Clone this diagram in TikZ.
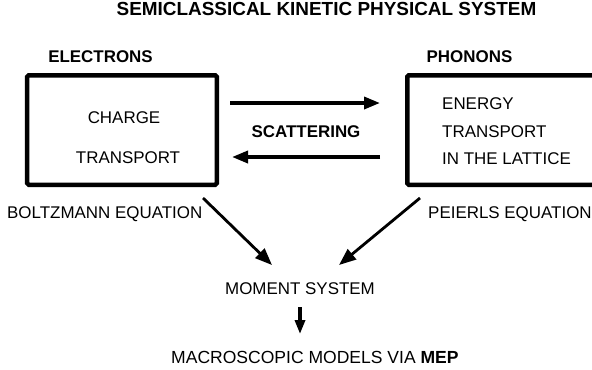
\documentclass[tikz,border=0pt]{standalone}
\usepackage{fontspec}
\setmainfont{Liberation Sans}
\usetikzlibrary{arrows.meta}
\begin{document}
\begin{tikzpicture}[x=1bp,y=-1bp,
  lbl/.style={inner sep=0pt, anchor=base, font=\fontsize{17}{20}\selectfont},
  lblL/.style={lbl, anchor=base west},
  bold/.style={lbl, font=\fontsize{17}{20}\selectfont\bfseries},
  boxst/.style={draw, line width=4.5bp, rounded corners=1.5bp, inner sep=0pt, outer sep=0pt},
  harr/.style={line width=3.5bp, -{Triangle[length=16bp,width=12bp]}},
  darr/.style={line width=2.8bp, -{Triangle[length=17bp,width=13bp]}},
  varr/.style={line width=3.3bp, -{Triangle[length=14bp,width=10bp]}},
]
\useasboundingbox (0,0) rectangle (592,369);
\clip (0,0) rectangle (592,369);

\node[bold, font=\fontsize{19}{22}\selectfont\bfseries] (title) at (326.5,15) {SEMICLASSICAL KINETIC PHYSICAL SYSTEM};

\node[bold] (elec) at (100.5,62) {ELECTRONS};
\node[bold] (phon) at (469.5,62) {PHONONS};

\node[boxst, minimum width=189.5bp, minimum height=109.5bp] (ebox) at (122,130) {};
\node[boxst, minimum width=223bp, minimum height=109.5bp] (pbox) at (518.75,130) {};

\node[lbl] (charge) at (124,123) {CHARGE};
\node[lbl] (ctrans) at (128,163) {TRANSPORT};

\node[lblL] (energy) at (442,109.5) {ENERGY};
\node[lblL] (etrans) at (442,137) {TRANSPORT};
\node[lblL] (latt) at (442,164.5) {IN THE LATTICE};

\node[bold] (scat) at (306,137) {SCATTERING};

\coordinate (a1s) at (230,103);
\coordinate (a1e) at (380,103);
\coordinate (a2s) at (380,157);
\coordinate (a2e) at (232,157);
\draw[harr] (a1s) -- (a1e);
\draw[harr] (a2s) -- (a2e);

\node[lblL] (boltz) at (7,218) {BOLTZMANN EQUATION};
\node[lblL] (peierls) at (428,218) {PEIERLS EQUATION};

\node[lbl] (moment) at (300,294) {MOMENT SYSTEM};
\node[lblL, font=\fontsize{17.6}{20}\selectfont] (macro) at (171,363) {MACROSCOPIC MODELS VIA \textbf{MEP}};

\coordinate (d1s) at (203,198);
\coordinate (d1e) at (272,265);
\coordinate (d2s) at (420,198);
\coordinate (d2e) at (339,265);
\draw[darr] (d1s) -- (d1e);
\draw[darr] (d2s) -- (d2e);

\coordinate (vs) at (300,307);
\coordinate (ve) at (300,334);
\draw[varr] (vs) -- (ve);
\end{tikzpicture}
\end{document}
